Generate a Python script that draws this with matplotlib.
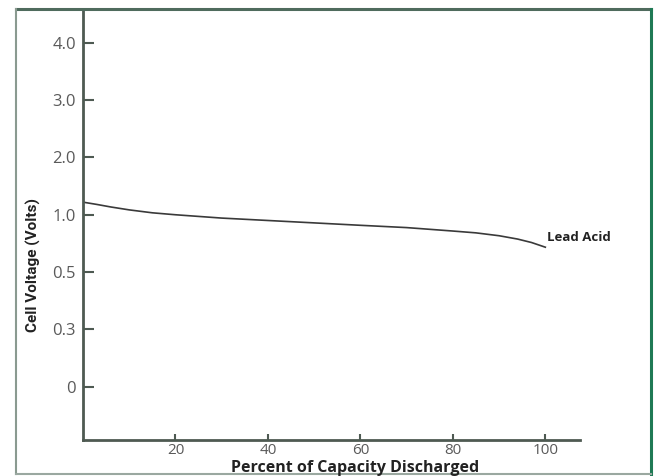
import numpy as np
import matplotlib
matplotlib.use("Agg")
import matplotlib.pyplot as plt
from matplotlib.lines import Line2D

# Data
percent_discharged = [0, 3, 6, 10, 15, 20, 30, 40, 50, 60, 70, 80, 85, 90, 94, 97, 100]
cell_voltage = [1.22, 1.18, 1.136, 1.085, 1.034, 1.00, 0.971, 0.95, 0.929, 0.908,
                0.888, 0.858, 0.842, 0.817, 0.788, 0.758, 0.717]
y_tick_values = [0, 0.3, 0.5, 1.0, 2.0, 3.0, 4.0]
y_tick_labels = ["0", "0.3", "0.5", "1.0", "2.0", "3.0", "4.0"]
x_tick_values = [20, 40, 60, 80, 100]
series_label = "Lead Acid"

# Evenly spaced, non-linear voltage axis
_v = np.array(y_tick_values, dtype=float)
_p = np.arange(len(_v), dtype=float)

def fwd(v):
    v = np.asarray(v, dtype=float)
    out = np.interp(v, _v, _p)
    out = np.where(v < _v[0], _p[0] + (v - _v[0]) / (_v[1] - _v[0]), out)
    out = np.where(v > _v[-1], _p[-1] + (v - _v[-1]) / (_v[-1] - _v[-2]), out)
    return out

def inv(p):
    p = np.asarray(p, dtype=float)
    out = np.interp(p, _p, _v)
    out = np.where(p < _p[0], _v[0] + (p - _p[0]) * (_v[1] - _v[0]), out)
    out = np.where(p > _p[-1], _v[-1] + (p - _p[-1]) * (_v[-1] - _v[-2]), out)
    return out

fig = plt.figure(figsize=(6.57, 4.76), dpi=100)
W, H = 657, 476
ax = fig.add_axes([83 / W, 1 - 440 / H, (580 - 83) / W, (440 - 9) / H])
ax.set_yscale("function", functions=(fwd, inv))

spine_col = "#4e5a52"
ax.plot(percent_discharged, cell_voltage, color="#3a3a3a", lw=1.2,
        solid_joinstyle="round")

ax.set_xlim(0, 107.5)
ax.set_ylim(float(inv(-0.93)), float(inv(6.59)))
ax.set_yticks(y_tick_values)
ax.set_yticklabels(y_tick_labels)
ax.set_xticks(x_tick_values)
ax.set_xticklabels([str(t) for t in x_tick_values])
ax.minorticks_off()

for s in ["top", "right"]:
    ax.spines[s].set_visible(False)
for s in ["left", "bottom"]:
    ax.spines[s].set_color(spine_col)
    ax.spines[s].set_linewidth(2.0)

ax.tick_params(axis="y", direction="in", length=8, width=1.5, color=spine_col,
               labelcolor="#5a5a5a", pad=5, labelsize=12)
ax.tick_params(axis="x", direction="in", length=4, width=1.5, color=spine_col,
               labelcolor="#5a5a5a", pad=2, labelsize=11)
for lbl in ax.get_xticklabels() + ax.get_yticklabels():
    lbl.set_family(["Open Sans", "DejaVu Sans"])

ax.text(100.4, 0.80, series_label, fontsize=9.5, fontweight="bold", color="#222222",
        family=["Open Sans", "DejaVu Sans"], ha="left", va="center")

fig.text(355 / W, 1 - 467.5 / H, "Percent of Capacity Discharged", fontsize=11.5,
         fontweight="bold", color="#222222", family=["Open Sans", "DejaVu Sans"],
         ha="center", va="center")
fig.text(33 / W, 1 - 265 / H, "Cell Voltage (Volts)", fontsize=11, rotation=90,
         fontweight="bold", color="#222222",
         family=["Liberation Sans Narrow", "Roboto", "DejaVu Sans"],
         ha="center", va="center")

# Figure frame
def fline(x0, y0, x1, y1, c, lw):
    fig.add_artist(Line2D([x0 / W, x1 / W], [1 - y0 / H, 1 - y1 / H], color=c, lw=lw,
                          transform=fig.transFigure))

fline(16, 9, 651, 9, "#4f6b5d", 2.2)
fline(651, 9, 651, 474, "#1f7a55", 2.2)
fline(16, 9, 16, 474, "#8a9a90", 1.5)
fline(16, 474, 651, 474, "#9aa8a0", 1.5)

fig.savefig("out.png", dpi=100)
